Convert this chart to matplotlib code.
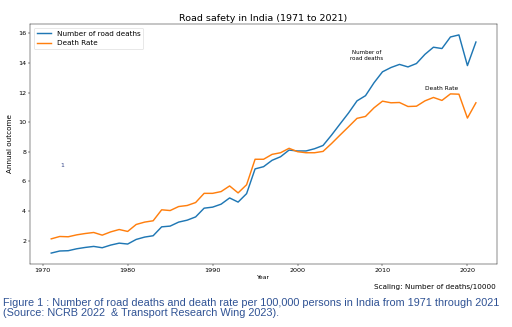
import matplotlib
matplotlib.use('Agg')
import matplotlib.pyplot as plt
import numpy as np

years = list(range(1971, 2022))
road_deaths = [1.17, 1.31, 1.33, 1.46, 1.55, 1.62, 1.53, 1.71, 1.84, 1.78,
               2.09, 2.25, 2.34, 2.94, 2.99, 3.26, 3.39, 3.61, 4.20, 4.27,
               4.47, 4.89, 4.61, 5.18, 6.85, 7.00, 7.43, 7.67, 8.12, 8.06,
               8.06, 8.21, 8.43, 9.13, 9.88, 10.62, 11.44, 11.79, 12.66, 13.40,
               13.69, 13.90, 13.73, 13.96, 14.58, 15.06, 14.97, 15.75, 15.89, 13.82,
               15.41]
death_rate = [2.13, 2.29, 2.27, 2.40, 2.49, 2.56, 2.38, 2.60, 2.76, 2.63,
              3.10, 3.26, 3.35, 4.09, 4.04, 4.31, 4.38, 4.58, 5.20, 5.20,
              5.32, 5.70, 5.23, 5.78, 7.50, 7.50, 7.83, 7.94, 8.24, 8.01,
              7.94, 7.94, 8.03, 8.56, 9.13, 9.69, 10.26, 10.39, 10.97, 11.42,
              11.31, 11.33, 11.06, 11.08, 11.44, 11.67, 11.47, 11.91, 11.89, 10.28,
              11.31]

caption = ("Figure 1 : Number of road deaths and death rate per 100,000 persons in India from 1971 through 2021\n"
           "(Source: NCRB 2022  & Transport Research Wing 2023).")

fig = plt.figure(figsize=(12.8, 8.175), dpi=40)
ax = fig.add_axes([0.0586, 0.1927, 0.9124, 0.7339])
ax.plot(years, road_deaths, lw=2.6, label='Number of road deaths')
ax.plot(years, death_rate, lw=2.6, label='Death Rate')
ax.legend(loc='upper left', fontsize=13)
ax.set_title('Road safety in India (1971 to 2021)', fontsize=17)
ax.set_xlabel('Year', fontsize=11)
ax.set_ylabel('Annual outcome', fontsize=13, labelpad=8)
ax.tick_params(labelsize=11.5)
ax.text(2008.1, 14.5, 'Number of\nroad deaths', fontsize=10, ha='center', va='center')
ax.text(2017.0, 12.3, 'Death Rate', fontsize=10.5, ha='center', va='center')
ax.text(1972.3, 7.1, '1', fontsize=11, color='#334488', ha='center', va='center')

fig.text(0.969, 0.122, 'Scaling: Number of deaths/10000', fontsize=13,
         ha='right', va='center')
fig.text(0.006, 0.0566, caption, fontsize=19.6, family='Liberation Sans',
         color='#2f5294', ha='left', va='center', linespacing=1.0)

fig.savefig('out.png', dpi=40)
